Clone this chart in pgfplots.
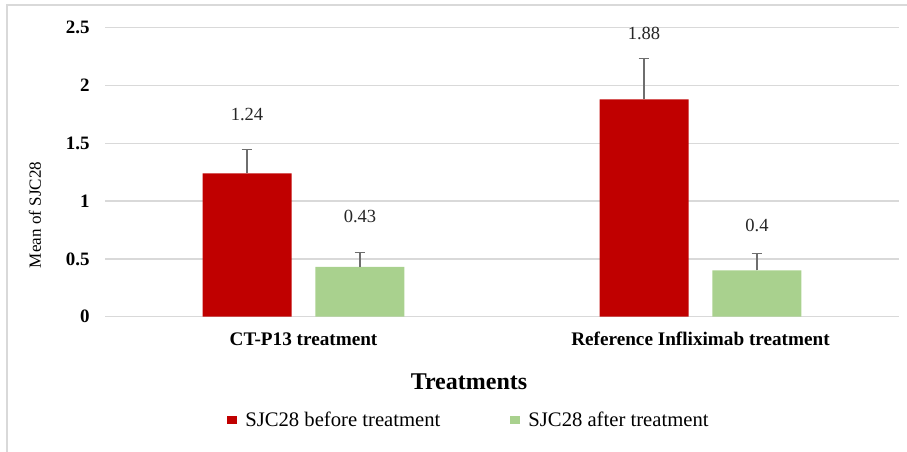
\documentclass[border=0pt]{standalone}
\usepackage{pgfplots}
\pgfplotsset{compat=1.18}
\usepackage{fontspec}
\setmainfont{Liberation Serif}
\definecolor{redbar}{HTML}{C00000}
\definecolor{greenbar}{HTML}{A9D18E}
\definecolor{gridc}{HTML}{D9D9D9}
\definecolor{errc}{HTML}{6E6E6E}
\begin{document}
\begin{tikzpicture}
\useasboundingbox (0,0) rectangle (680.25pt,339pt);
\draw[gridc, line width=1pt] (5.25pt,-2pt) -- (5.25pt,335.25pt) -- (682pt,335.25pt);
\begin{axis}[
  at={(78.75pt,101.5pt)}, anchor=south west,
  scale only axis, width=595.5pt, height=216.75pt,
  xmin=-0.5, xmax=1.5, ymin=0, ymax=2.5,
  clip=false,
  axis line style={draw=none},
  major tick length=0pt,
  ytick={0,0.5,1,1.5,2,2.5},
  yticklabels={0,0.5,1,1.5,2,2.5},
  ymajorgrids, grid style={gridc, line width=1pt},
  /pgf/number format/assume math mode=true,
  yticklabel style={font=\fontsize{14.2}{16}\selectfont\bfseries, xshift=-8pt},
  xtick={0,1},
  xticklabels={CT-P13 treatment, Reference Infliximab treatment},
  xticklabel style={font=\fontsize{14.4}{16}\selectfont\bfseries, anchor=center, yshift=-16.7pt},
  xlabel={Treatments},
  xlabel style={font=\fontsize{18}{20}\selectfont\bfseries, at={(axis description cs:0.4584,-0.226)}, anchor=center},
  ylabel={Mean of SJC28},
  ylabel style={font=\fontsize{12.8}{14}\selectfont, at={(axis description cs:-0.0882,0.352)}, anchor=center},
  legend columns=2,
  legend style={draw=none, fill=none, at={(axis description cs:0.4584,-0.357)}, anchor=center,
    font=\fontsize{15.5}{17}\selectfont, inner sep=0pt,
    /tikz/every odd column/.append style={column sep=4.5pt},
    /tikz/every even column/.append style={column sep=50pt}},
  legend image code/.code={\fill[#1] (0pt,-3.2pt) rectangle (7.5pt,3.2pt);},
]
\addplot[ybar, bar width=66.75pt, bar shift=0pt, fill=redbar, draw=none,
  error bars/.cd, y dir=plus, y explicit,
  error bar style={errc, line width=0.9pt},
  error mark options={errc, rotate=90, mark size=4.1pt, line width=0.9pt}]
  coordinates {(-0.1423,1.24) +- (0,0.208) (0.8577,1.88) +- (0,0.352)};
\addlegendentry{SJC28 before treatment}
\addplot[ybar, bar width=66.75pt, bar shift=0pt, fill=greenbar, draw=none,
  error bars/.cd, y dir=plus, y explicit,
  error bar style={errc, line width=0.9pt},
  error mark options={errc, rotate=90, mark size=4.1pt, line width=0.9pt}]
  coordinates {(0.1423,0.43) +- (0,0.127) (1.1423,0.40) +- (0,0.145)};
\addlegendentry{SJC28 after treatment}
\addplot[draw=none, forget plot, nodes near coords, point meta=explicit symbolic,
  nodes near coords style={anchor=center, font=\fontsize{13.9}{16}\selectfont, text=black!85}]
  coordinates {(-0.1423,1.753) [1.24] (0.1423,0.871) [0.43] (0.8577,2.448) [1.88] (1.1423,0.785) [0.4]};
\end{axis}
\end{tikzpicture}
\end{document}
